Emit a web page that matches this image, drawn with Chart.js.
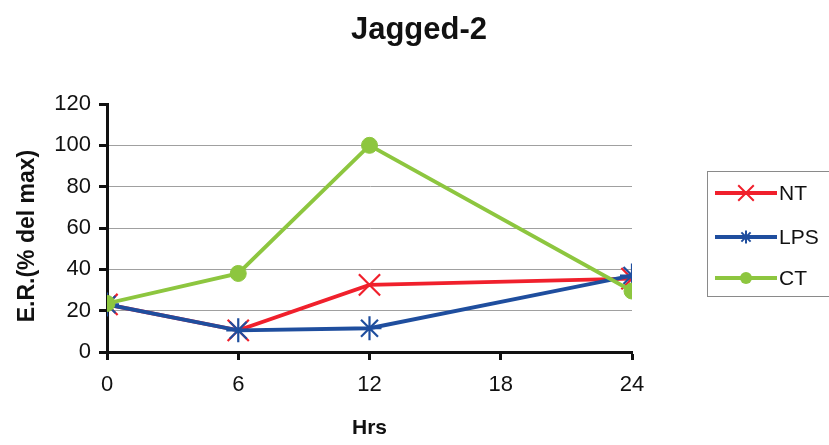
<!DOCTYPE html>
<html>
<head>
<meta charset="utf-8">
<script src="https://cdn.jsdelivr.net/npm/chart.js@4/dist/chart.umd.min.js"></script>
<style>
  html, body { margin: 0; padding: 0; background: #ffffff; }
  #wrap { width: 829px; height: 445px; }
</style>
</head>
<body>
<div id="wrap"><canvas id="c" width="829" height="445"></canvas></div>
<script>
const chartTitle = "Jagged-2";
const xTitle = "Hrs";
const yTitle = "E.R.(% del max)";
const hours = [0, 6, 12, 24];
const seriesNames = ["NT", "LPS", "CT"];
const ntValues = [23, 10.5, 32.5, 35.5];
const lpsValues = [23, 10.5, 11.5, 37];
const ctValues = [23.5, 38, 100, 29.5];
const xTicks = [0, 6, 12, 18, 24];
const yTicks = [0, 20, 40, 60, 80, 100, 120];

const FONT = "'Liberation Sans', Arial, Helvetica, sans-serif";
const colors = { NT: "#f0202c", LPS: "#1f4e9e", CT: "#8dc63f" };
const styles = { NT: "crossRot", LPS: "star", CT: "circle" };
const radii = { NT: 15, LPS: 12, CT: 8 };

function pts(vals) { return hours.map((h, i) => ({ x: h, y: vals[i] })); }

const seriesValues = [ntValues, lpsValues, ctValues];

const datasets = seriesNames.map((name, i) => ({
  label: name,
  data: pts(seriesValues[i]),
  borderColor: colors[name],
  backgroundColor: colors[name],
  borderWidth: 3.8,
  pointStyle: styles[name],
  pointRadius: radii[name],
  pointBorderWidth: name === "CT" ? 1 : 2.2,
  pointBorderColor: colors[name],
  pointBackgroundColor: colors[name],
  tension: 0,
  order: 2 - i
}));

function drawMarker(ctx, style, x, y, r, color) {
  ctx.save();
  ctx.strokeStyle = color;
  ctx.fillStyle = color;
  ctx.lineWidth = 2;
  ctx.beginPath();
  if (style === "circle") {
    ctx.arc(x, y, r, 0, Math.PI * 2);
    ctx.fill();
  } else if (style === "crossRot") {
    const d = r * Math.SQRT1_2;
    ctx.moveTo(x - d, y - d); ctx.lineTo(x + d, y + d);
    ctx.moveTo(x + d, y - d); ctx.lineTo(x - d, y + d);
    ctx.stroke();
  } else if (style === "star") {
    const d = r * Math.SQRT1_2;
    ctx.moveTo(x - d, y - d); ctx.lineTo(x + d, y + d);
    ctx.moveTo(x + d, y - d); ctx.lineTo(x - d, y + d);
    ctx.moveTo(x, y - r); ctx.lineTo(x, y + r);
    ctx.moveTo(x - r, y); ctx.lineTo(x + r, y);
    ctx.stroke();
  }
  ctx.restore();
}

const textPlugin = {
  id: "fixedTexts",
  afterDraw(chart) {
    const ctx = chart.ctx;
    ctx.save();
    ctx.fillStyle = "#111111";
    ctx.textAlign = "center";
    ctx.textBaseline = "middle";
    ctx.font = "bold 31px " + FONT;
    ctx.fillText(chartTitle, 419, 30);
    ctx.translate(27, 236);
    ctx.rotate(-Math.PI / 2);
    ctx.font = "bold 23px " + FONT;
    ctx.fillText(yTitle, 0, 1);
    ctx.restore();
  }
};

const legendPlugin = {
  id: "boxLegend",
  afterDraw(chart) {
    const ctx = chart.ctx;
    ctx.save();
    ctx.strokeStyle = "#8a8a8a";
    ctx.lineWidth = 1;
    ctx.strokeRect(707.5, 171.5, 140, 125);
    const ys = [193, 237, 278];
    const lr = { NT: 11, LPS: 6.5, CT: 6 };
    seriesNames.forEach((name, i) => {
      const y = ys[i];
      ctx.strokeStyle = colors[name];
      ctx.lineWidth = 3.8;
      ctx.beginPath();
      ctx.moveTo(715, y);
      ctx.lineTo(777, y);
      ctx.stroke();
      drawMarker(ctx, styles[name], 746, y, lr[name], colors[name]);
      ctx.fillStyle = "#111111";
      ctx.font = "21px " + FONT;
      ctx.textBaseline = "middle";
      ctx.textAlign = "left";
      ctx.fillText(name, 779, y + 1);
    });
    ctx.restore();
  }
};

new Chart(document.getElementById("c"), {
  type: "line",
  data: { datasets },
  options: {
    responsive: false,
    animation: false,
    events: [],
    layout: { padding: { top: 104, left: 0, right: 197, bottom: 0 } },
    plugins: {
      legend: { display: false },
      tooltip: { enabled: false },
      title: { display: false }
    },
    scales: {
      x: {
        type: "linear",
        min: xTicks[0],
        max: xTicks[xTicks.length - 1],
        afterBuildTicks(scale) { scale.ticks = xTicks.map(v => ({ value: v })); },
        afterFit(scale) { scale.height = 93; },
        border: { display: true, color: "#111111", width: 3 },
        grid: {
          drawOnChartArea: false,
          drawTicks: true,
          tickLength: 8,
          tickColor: "#111111",
          tickWidth: 3
        },
        ticks: {
          color: "#111111",
          padding: 12,
          font: { family: FONT, size: 22 }
        },
        title: {
          display: true,
          text: xTitle,
          color: "#111111",
          font: { family: FONT, size: 21, weight: "bold", lineHeight: 1.2 },
          padding: { top: 0, bottom: 4 }
        }
      },
      y: {
        type: "linear",
        min: yTicks[0],
        max: yTicks[yTicks.length - 1],
        afterBuildTicks(scale) { scale.ticks = yTicks.map(v => ({ value: v })); },
        afterFit(scale) { scale.width = 107; },
        border: { display: true, color: "#111111", width: 3 },
        grid: {
          color: (c) => (c.tick && (c.tick.value === 0 || c.tick.value === 120)) ? "rgba(0,0,0,0)" : "#a0a0a0",
          lineWidth: 1,
          drawTicks: true,
          tickLength: 8,
          tickColor: "#111111",
          tickWidth: 3
        },
        ticks: {
          color: "#111111",
          padding: 8,
          font: { family: FONT, size: 22 }
        },
        title: { display: false }
      }
    }
  },
  plugins: [textPlugin, legendPlugin]
});
</script>
</body>
</html>
